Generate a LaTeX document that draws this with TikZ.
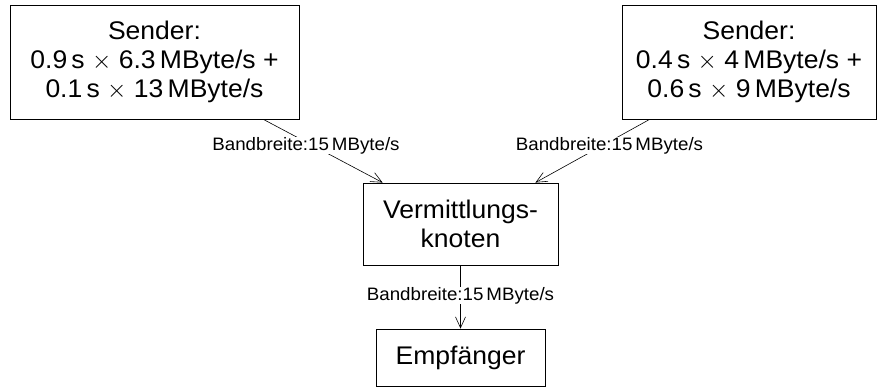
\documentclass[tikz,border=0pt]{standalone}
\usepackage{fontspec}
\setmainfont[FakeStretch=1.04]{Liberation Sans}
\usetikzlibrary{arrows.meta,calc}

\tikzset{
  box/.style={draw, line width=0.8pt, rectangle, inner sep=0pt, align=center,
              font=\fontsize{25.5}{28.5}\selectfont},
  link/.style={draw, line width=0.6pt, -{Straight Barb[length=11pt,width=10pt,line width=0.6pt]}},
  bw/.style={fill=white, inner sep=0pt, anchor=base, font=\fontsize{18}{20}\selectfont},
}

\begin{document}
\begin{tikzpicture}[x=1pt,y=-1pt]
  \useasboundingbox (0,0) rectangle (877,388);

  % network elements
  \node[box, minimum width=289pt, minimum height=114pt] (s1) at (154.5,62)
    {Sender:\\0.9\,s~$\times$~6.3\,MByte/s~+\\[1pt]0.1\,s~$\times$~13\,MByte/s};
  \node[box, minimum width=254pt, minimum height=114pt] (s2) at (749,62)
    {Sender:\\0.4\,s~$\times$~4\,MByte/s~+\\[1pt]0.6\,s~$\times$~9\,MByte/s};
  \node[box, minimum width=195pt, minimum height=82pt] (vk) at (460.5,224)
    {Vermittlungs-\\knoten};
  \node[box, minimum width=169pt, minimum height=57pt] (emp) at (460.5,357.5)
    {Empfänger};

  % links
  \draw[link] ($(s1.south east)+(-36,0)$) -- ($(vk.north west)+(20,0)$);
  \draw[link] ($(s2.south west)+(28,0)$) -- ($(vk.north east)+(-23,0)$);
  \draw[link] (vk.south) -- (emp.north);

  % bandwidth labels
  \node[bw] (l1) at (306,150) {Bandbreite:15\,MByte/s};
  \node[bw] (l2) at (609.5,150) {Bandbreite:15\,MByte/s};
  \node[bw] (l3) at (460.5,300) {Bandbreite:15\,MByte/s};
\end{tikzpicture}
\end{document}
